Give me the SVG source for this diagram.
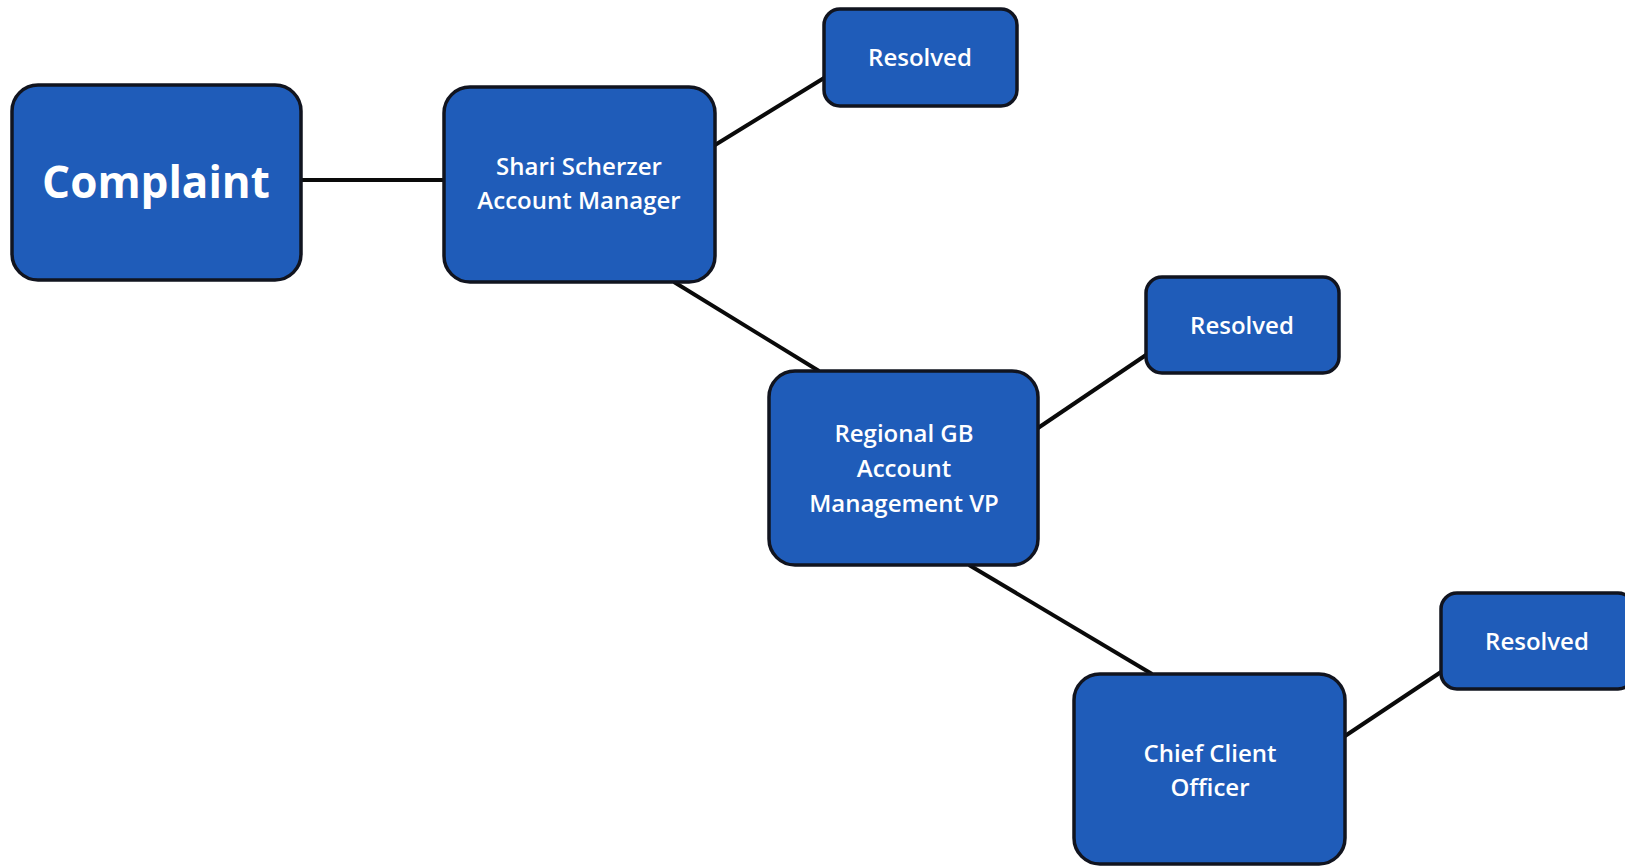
<svg xmlns="http://www.w3.org/2000/svg" width="1625" height="866" viewBox="0 0 1625 866">
<style>
.box{fill:#1f5cb9;stroke:#11141f;stroke-width:3.5}
.lbl{font-family:"Open Sans","Liberation Sans",sans-serif;font-weight:600;fill:#fff;text-anchor:middle;font-size:24px}
.big{font-family:"Open Sans","Liberation Sans",sans-serif;font-weight:700;fill:#fff;text-anchor:middle;font-size:44px}
.c{stroke:#0a0a0a;stroke-width:4;fill:none}
</style>
<rect width="1625" height="866" fill="#fff"/>
<g id="connectors">
<line class="c" x1="301" y1="180" x2="444" y2="180"/>
<line class="c" x1="715" y1="145" x2="824" y2="78"/>
<line class="c" x1="674" y1="282" x2="819" y2="371"/>
<line class="c" x1="1038" y1="428" x2="1146" y2="355"/>
<line class="c" x1="969" y1="565" x2="1152" y2="674"/>
<line class="c" x1="1345" y1="736" x2="1441" y2="672"/>
</g>
<g id="complaint">
<rect class="box" x="12" y="85" width="289" height="195" rx="26"/>
<text class="big" x="156" y="198">Complaint</text>
</g>
<g id="shari">
<rect class="box" x="444" y="87" width="271" height="195" rx="26"/>
<text class="lbl" x="579" y="175">Shari Scherzer</text>
<text class="lbl" x="579" y="209">Account Manager</text>
</g>
<g id="resolved1">
<rect class="box" x="824" y="9" width="193" height="97" rx="16"/>
<text class="lbl" x="920" y="66">Resolved</text>
</g>
<g id="regional">
<rect class="box" x="769" y="371" width="269" height="194" rx="26"/>
<text class="lbl" x="904" y="442">Regional GB</text>
<text class="lbl" x="904" y="477">Account</text>
<text class="lbl" x="904" y="512">Management VP</text>
</g>
<g id="resolved2">
<rect class="box" x="1146" y="277" width="193" height="96" rx="16"/>
<text class="lbl" x="1242" y="334">Resolved</text>
</g>
<g id="chief">
<rect class="box" x="1074" y="674" width="271" height="190" rx="26"/>
<text class="lbl" x="1210" y="762">Chief Client</text>
<text class="lbl" x="1210" y="796">Officer</text>
</g>
<g id="resolved3">
<rect class="box" x="1441" y="593" width="193" height="96" rx="16"/>
<text class="lbl" x="1537" y="650">Resolved</text>
</g>
</svg>
